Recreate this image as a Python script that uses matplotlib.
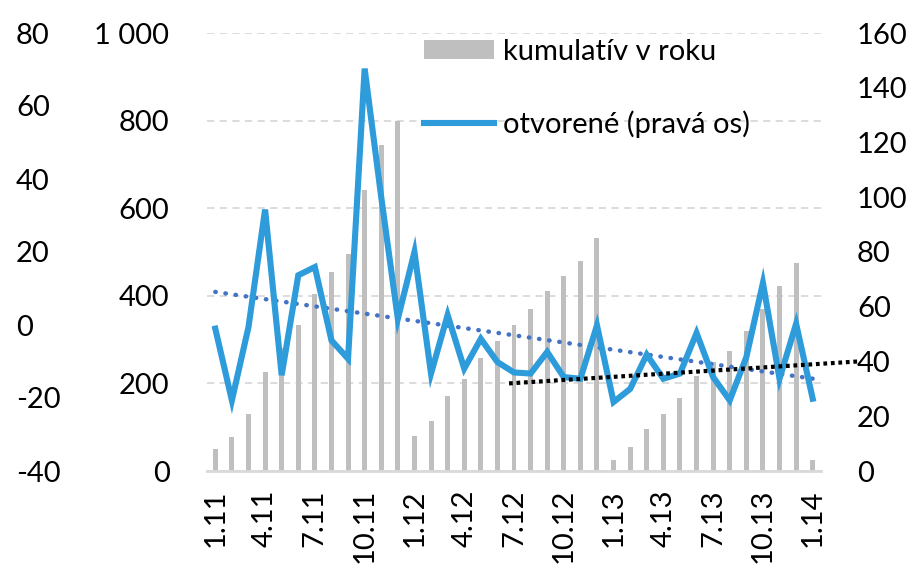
import numpy as np
import matplotlib
matplotlib.use("Agg")
import matplotlib.pyplot as plt
from matplotlib.patches import Patch
from matplotlib.lines import Line2D
from matplotlib.ticker import FuncFormatter

plt.rcParams['font.family'] = ['Lato', 'DejaVu Sans']
plt.rcParams['axes.unicode_minus'] = False

# ---- data ----
months = ['1.11', '2.11', '3.11', '4.11', '5.11', '6.11', '7.11', '8.11', '9.11', '10.11', '11.11', '12.11',
          '1.12', '2.12', '3.12', '4.12', '5.12', '6.12', '7.12', '8.12', '9.12', '10.12', '11.12', '12.12',
          '1.13', '2.13', '3.13', '4.13', '5.13', '6.13', '7.13', '8.13', '9.13', '10.13', '11.13', '12.13',
          '1.14']
cumulative = [51, 78, 130, 225, 280, 333, 405, 454, 495, 642, 744, 800,
              79, 114, 171, 209, 258, 297, 333, 369, 412, 446, 479, 533,
              24, 55, 97, 129, 167, 217, 250, 275, 319, 370, 422, 475,
              26]
opened = [52, 25.8, 52.6, 95.5, 35, 71.5, 74.5, 47.7, 41, 147, 100, 55.6,
          80, 35.6, 57, 37.4, 48.3, 39.8, 36, 35.6, 43.5, 34.3, 33.7, 53.2,
          25.2, 30, 42.5, 33.7, 35.6, 50.4, 34.3, 25.8, 41.6, 68.7, 33.7, 53.8,
          26.4]
# black dotted trend (start/end value, right axis) from 7.12 forward
black_trend_pos = [17.7, 38.7]
black_trend_val = [32.0, 40.0]

left_ticks = [0, 200, 400, 600, 800, 1000]
right_ticks = [0, 20, 40, 60, 80, 100, 120, 140, 160]
far_ticks = [-40, -20, 0, 20, 40, 60, 80]
label_names = ['kumulatív v roku', 'otvorené (pravá os)']

# ---- figure ----
W, H = 918, 566
fig = plt.figure(figsize=(W / 100, H / 100), dpi=100)
L, R, B, T = 207, 821, 471, 33
ax = fig.add_axes([L / W, 1 - B / H, (R - L) / W, (B - T) / H])

x = np.arange(len(months))
fs = 21

ax.bar(x, cumulative, width=0.3, color='#BFBFBF', zorder=2)
ax.set_xlim(-0.5, len(months) - 0.5)
ax.set_ylim(0, 1000)
ax.set_yticks(left_ticks)
ax.yaxis.set_major_formatter(FuncFormatter(lambda v, p: f"{int(v):,}".replace(',', ' ')))
ax.grid(axis='y', color='#D9D9D9', linestyle=(0, (4, 3)), linewidth=1.3, zorder=0)
ax.set_axisbelow(True)
for s in ['top', 'right', 'left']:
    ax.spines[s].set_visible(False)
ax.spines['bottom'].set_color('#D9D9D9')
ax.spines['bottom'].set_linewidth(2)
ax.tick_params(axis='y', length=0, pad=27, labelsize=fs)
ax.set_xticks(x[::3])
ax.set_xticklabels(months[::3], rotation=90, fontsize=fs)
ax.tick_params(axis='x', length=0, pad=13)

# right axis
ax2 = ax.twinx()
ax2.set_ylim(0, 160)
ax2.set_yticks(right_ticks)
for s in ax2.spines.values():
    s.set_visible(False)
ax2.tick_params(axis='y', length=0, pad=26, labelsize=fs)

coef = np.polyfit(x, opened, 1)
ax2.plot(x, np.polyval(coef, x), color='#4472C4', linestyle=(0, (0.1, 2.2)),
         linewidth=3.2, dash_capstyle='round', zorder=3)
ax2.plot(black_trend_pos, black_trend_val, color='black', linestyle=(0, (0.9, 0.9)),
         linewidth=3, zorder=4, clip_on=False)
ax2.plot(x, opened, color='#2E9BDB', linewidth=4.4, zorder=3, solid_joinstyle='miter')

# far-left axis
ax3 = ax.twinx()
ax3.set_ylim(-40, 80)
ax3.set_yticks(far_ticks)
ax3.yaxis.set_ticks_position('left')
for s in ax3.spines.values():
    s.set_visible(False)
ax3.spines['left'].set_position(('axes', (16 - L) / (R - L)))
ax3.tick_params(axis='y', length=0, pad=0, labelsize=fs)
for lab in ax3.get_yticklabels():
    lab.set_horizontalalignment('left')

handles = [Patch(facecolor='#BFBFBF', edgecolor='none'),
           Line2D([0], [0], color='#2E9BDB', linewidth=4.4)]
leg = ax2.legend(handles, label_names, loc='upper left',
                 bbox_to_anchor=((424 - L) / (R - L), 1 - 6 / (B - T)),
                 frameon=False, fontsize=fs, handlelength=2.4, handleheight=0.62,
                 handletextpad=0.3, labelspacing=1.55, borderpad=0, borderaxespad=0)
leg.set_zorder(10)

fig.savefig('out.png', dpi=100)
